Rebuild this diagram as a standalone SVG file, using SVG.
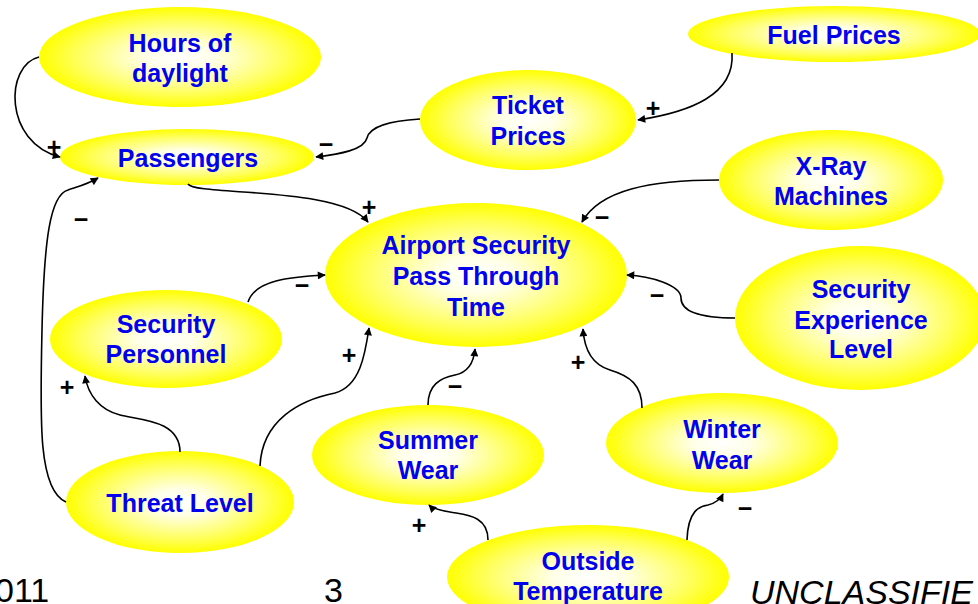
<svg xmlns="http://www.w3.org/2000/svg" width="978" height="604" viewBox="0 0 978 604">
<defs>
<radialGradient id="yg" cx="50%" cy="50%" r="50%">
<stop offset="0%" stop-color="#ffffff"/>
<stop offset="25%" stop-color="#ffffe8"/>
<stop offset="75%" stop-color="#ffff55"/>
<stop offset="100%" stop-color="#ffff00"/>
</radialGradient>
<marker id="ah" viewBox="0 0 10 10" refX="9" refY="5" markerWidth="9" markerHeight="8" markerUnits="userSpaceOnUse" orient="auto">
<path d="M0,0 L10,5 L0,10 z" fill="#000"/>
</marker>
<style>
.n ellipse{fill:url(#yg);stroke:none}
.n text{font-family:"Liberation Sans",Arial,sans-serif;font-weight:bold;font-size:25px;fill:#0000ee;text-anchor:middle}
.c path{fill:none;stroke:#000;stroke-width:1.6;marker-end:url(#ah)}
.s{font-family:"Liberation Sans",Arial,sans-serif;font-weight:bold;font-size:25px;fill:#000;text-anchor:middle}
.f{font-family:"Liberation Sans",Arial,sans-serif;font-size:34px;fill:#000}
</style>
</defs>
<rect width="978" height="604" fill="#fff"/>
<g id="n-hours" class="n"><ellipse cx="180" cy="57" rx="141" ry="50"/><text x="180" y="52">Hours of</text><text x="180" y="82">daylight</text></g>
<g id="n-passengers" class="n"><ellipse cx="187" cy="157" rx="127" ry="28"/><text x="188" y="167">Passengers</text></g>
<g id="n-ticket" class="n"><ellipse cx="528" cy="120" rx="108" ry="50"/><text x="528" y="114">Ticket</text><text x="528" y="145">Prices</text></g>
<g id="n-fuel" class="n"><ellipse cx="834" cy="34" rx="146" ry="28"/><text x="834" y="44">Fuel Prices</text></g>
<g id="n-xray" class="n"><ellipse cx="831" cy="180" rx="112" ry="50"/><text x="831" y="175">X-Ray</text><text x="831" y="205">Machines</text></g>
<g id="n-airport" class="n"><ellipse cx="476" cy="275" rx="151" ry="72"/><text x="476" y="254">Airport Security</text><text x="476" y="285">Pass Through</text><text x="476" y="316">Time</text></g>
<g id="n-secexp" class="n"><ellipse cx="860" cy="318" rx="125" ry="72"/><text x="861" y="298">Security</text><text x="861" y="329">Experience</text><text x="861" y="358">Level</text></g>
<g id="n-secpers" class="n"><ellipse cx="166" cy="339" rx="116" ry="49"/><text x="166" y="333">Security</text><text x="166" y="363">Personnel</text></g>
<g id="n-threat" class="n"><ellipse cx="180" cy="502" rx="114" ry="51"/><text x="180" y="512">Threat Level</text></g>
<g id="n-summer" class="n"><ellipse cx="428" cy="455" rx="116" ry="50"/><text x="428" y="449">Summer</text><text x="428" y="479">Wear</text></g>
<g id="n-winter" class="n"><ellipse cx="722" cy="443" rx="116" ry="50"/><text x="722" y="438">Winter</text><text x="722" y="469">Wear</text></g>
<g id="n-outside" class="n"><ellipse cx="588" cy="577" rx="141" ry="52"/><text x="588" y="570">Outside</text><text x="588" y="600">Temperature</text></g>
<g id="connectors" class="c">
<path d="M39,57 C5,65 3,142 60,157"/>
<path d="M420,119 C390,121 370,126 367,138 C364,150 340,154 316,157"/>
<path d="M732,53 C735,95 690,112 638,120"/>
<path d="M188,184 C195,196 340,186 368,222"/>
<path d="M719,180 C650,180 600,190 582,222"/>
<path d="M735,318 C700,318 681,312 681,298 C681,285 650,276 627,275"/>
<path d="M248,302 C255,280 290,277 325,275"/>
<path d="M260,466 C262,420 300,400 335,393 C360,386 365,355 369,328"/>
<path d="M180,452 C180,420 140,420 120,415 C100,410 88,395 85,376"/>
<path d="M66,502 C38,490 40,420 42,330 C44,240 50,195 68,190 C80,186 88,184 98,178"/>
<path d="M428,405 C428,385 440,378 455,375 C470,372 474,360 475,349"/>
<path d="M642,408 C642,385 630,376 610,370 C590,364 584,345 583,329"/>
<path d="M488,540 C488,515 465,515 450,512 C438,510 432,508 429,505"/>
<path d="M687,540 C688,510 700,506 708,505 C716,503 720,500 723,494"/>
</g>
<g id="signs">
<text class="s" x="54" y="156">+</text>
<text class="s" x="326" y="153">−</text>
<text class="s" x="653" y="117">+</text>
<text class="s" x="369" y="216">+</text>
<text class="s" x="602" y="226">−</text>
<text class="s" x="657" y="304">−</text>
<text class="s" x="302" y="294">−</text>
<text class="s" x="349" y="364">+</text>
<text class="s" x="67" y="396">+</text>
<text class="s" x="81" y="228">−</text>
<text class="s" x="455" y="395">−</text>
<text class="s" x="578" y="371">+</text>
<text class="s" x="419" y="534">+</text>
<text class="s" x="745" y="517">−</text>
</g>
<g id="footer">
<text class="f" x="-5" y="602">011</text>
<text class="f" x="324" y="602">3</text>
<text class="f" x="750" y="604" font-style="italic">UNCLASSIFIE</text>
</g>
</svg>
